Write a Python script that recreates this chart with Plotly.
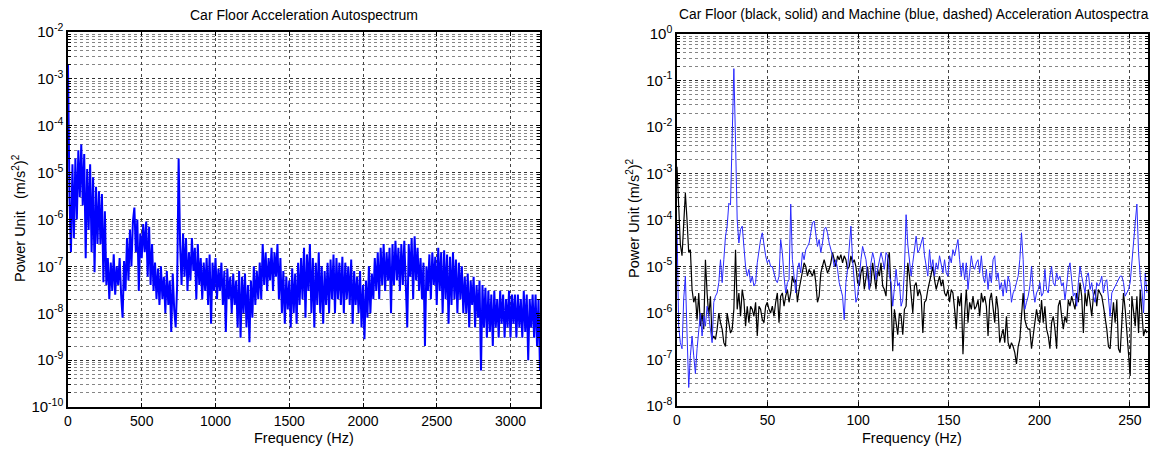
import numpy as np
import plotly.graph_objects as go

# ---------------- Left chart: car floor autospectrum (10 Hz steps, 0..3200 Hz)
left_freq_step = 10
left_vals = [
    2e-3, 3e-6, 2e-7, 1.5e-5, 4e-7, 2e-5, 1e-6, 3e-5, 3e-6, 4e-5,
    2e-6, 2.5e-5, 1.5e-7, 1.2e-5, 6e-7, 1.5e-5, 2e-7, 8e-6, 7.5e-8, 5e-6,
    3e-7, 4e-6, 3e-7, 3.5e-6, 4.6e-8, 1.5e-6, 4e-8, 1.5e-7, 2e-8, 1.2e-7,
    3e-8, 1.8e-7, 2.5e-8, 1e-7, 4e-8, 1.5e-7, 2.5e-8, 8e-9, 1.3e-7, 3e-8,
    4e-7, 5e-8, 6e-7, 1e-7, 9e-7, 1.8e-6, 2e-7, 1e-6, 3e-8, 5e-7,
    1.5e-7, 8e-7, 2e-7, 9e-7, 6e-8, 7e-7, 4e-8, 3e-7, 3e-8, 1.2e-7,
    2e-8, 9e-8, 1.5e-8, 1e-7, 2e-8, 6e-8, 1e-8, 8e-8, 1.5e-8, 5e-8,
    4e-9, 7e-8, 1.2e-8, 5e-9, 4e-8, 2e-5, 3e-7, 4e-8, 5e-7, 6e-8,
    4e-7, 3e-8, 2e-7, 5e-8, 4e-7, 8e-8, 2.5e-7, 2e-8, 3e-7, 4e-8,
    1.5e-7, 2e-8, 1.2e-7, 3e-8, 1.5e-7, 1.5e-8, 1.8e-7, 6e-9, 1.2e-7, 3e-8,
    1.5e-7, 2e-8, 9e-8, 3e-8, 1.2e-7, 1.5e-8, 8e-8, 4e-9, 9e-8, 2e-8,
    6e-8, 1e-8, 7e-8, 1.5e-8, 5e-8, 5e-9, 8e-8, 3e-9, 6e-8, 1e-8,
    7e-8, 5e-9, 4e-8, 2.4e-9, 5e-8, 8e-9, 1e-7, 1.5e-8, 8e-8, 2e-8,
    1.2e-7, 2e-8, 3e-7, 4e-8, 2e-7, 3e-8, 1.5e-7, 5e-8, 2.5e-7, 3e-8,
    2e-7, 6e-8, 3e-7, 2e-8, 1.5e-7, 1e-8, 8e-8, 6e-9, 6e-8, 1.2e-8,
    5e-8, 5e-9, 9e-8, 1e-8, 7e-8, 6e-9, 1.2e-7, 1.5e-8, 1.5e-7, 2e-8,
    2.5e-7, 8e-9, 1.8e-7, 3e-8, 3e-7, 1e-8, 1.5e-7, 5e-9, 1.2e-7, 1.5e-8,
    2e-7, 1e-8, 1e-7, 6e-9, 8e-8, 1.5e-8, 1.2e-7, 1e-8, 1.4e-7, 2e-8,
    1.8e-7, 1e-8, 1.5e-7, 2e-8, 1.2e-7, 1.5e-8, 1.6e-7, 1e-8, 1.2e-7, 2e-8,
    1e-7, 1.5e-8, 1.4e-7, 6e-9, 8e-8, 1.5e-8, 6e-8, 1e-8, 8e-8, 5e-9,
    4e-8, 2.8e-9, 5e-8, 8e-9, 1e-7, 1e-8, 7e-8, 2e-8, 1.5e-7, 3e-8,
    2e-7, 2e-8, 2.5e-7, 4e-8, 3e-7, 3e-8, 2e-7, 5e-8, 2.5e-7, 1e-8,
    3e-7, 4e-8, 3.5e-7, 5e-8, 2.5e-7, 3e-8, 3e-7, 4e-8, 3.5e-7, 3e-8,
    5e-9, 3e-7, 6e-8, 4e-7, 2e-8, 4.4e-7, 5e-8, 2.5e-7, 3e-8, 1.5e-7,
    2e-8, 1.2e-7, 2e-9, 1e-7, 3e-8, 1.8e-7, 2e-8, 2e-7, 4e-8, 1.6e-7,
    1.5e-8, 2.5e-7, 3e-8, 2e-7, 1e-8, 2.2e-7, 2e-8, 1.8e-7, 6e-9, 1.6e-7,
    1.5e-8, 2e-7, 2e-8, 1.4e-7, 1e-8, 1.2e-7, 2e-8, 1e-7, 1e-8, 6e-8,
    1e-8, 7e-8, 5e-9, 5e-8, 1.5e-8, 6e-8, 5e-9, 4e-8, 8e-9, 5e-8,
    6e-10, 4e-8, 5e-9, 3.5e-8, 3e-9, 3e-8, 4e-9, 2.5e-8, 2e-9, 3e-8,
    5e-9, 2e-8, 3e-9, 3e-8, 6e-9, 2.5e-8, 3e-9, 2e-8, 5e-9, 3e-8,
    3e-9, 2.5e-8, 6e-9, 2.5e-8, 3e-9, 2.5e-8, 5e-9, 2e-8, 3e-9, 3e-8,
    4e-9, 2.5e-8, 1e-9, 2e-8, 5e-9, 2.5e-8, 3e-9, 2.5e-8, 2e-9, 2e-8,
    6e-10,
]
left_freq = np.arange(len(left_vals)) * left_freq_step

# ---------------- Right chart: car floor (black) and machine (blue), 0..259.4 Hz
right_fmax = 259.4
black_low = [
    1.4e-3, 1.2e-4, 3e-5, 1.7e-5, 1.2e-4, 3.8e-4, 1e-4, 2e-5, 2.3e-5, 3.2e-6,
    1.7e-6, 2.3e-6, 7.2e-7, 2.7e-6, 5.2e-7, 1e-6, 4.5e-7, 1.4e-5, 2.7e-6, 8.5e-7,
    2.3e-6, 2.7e-7, 3.2e-7, 2.7e-7, 4.5e-7, 1e-6, 6.2e-7, 4.5e-7, 2.3e-7, 1.9e-7,
    1e-6, 6.2e-7, 3.7e-7, 4.5e-7, 1.2e-6, 2.3e-5, 1.2e-6, 2.7e-6, 8.5e-7, 3.2e-6,
    1.9e-6, 5.2e-7, 1.4e-6, 6.2e-7, 1.4e-6, 1.2e-6, 8.5e-7, 1.7e-6, 3.2e-7, 1.4e-6,
    1.2e-6, 7.2e-7, 6.2e-7, 1.4e-6, 1.7e-6, 1.2e-6, 1e-6, 1.4e-6, 8.5e-7, 1.7e-6,
    2.7e-6, 6.2e-7, 2.3e-6, 2.7e-6, 1.4e-6, 2.3e-6, 3.2e-6, 1.7e-6, 2.7e-6, 6.2e-6,
    4.5e-6, 5.2e-6, 1.7e-6, 3.2e-6, 5.2e-6, 8.7e-6, 1.2e-5, 1e-5, 6.2e-6, 8.7e-6,
    7.3e-6, 6.2e-6, 8.7e-6, 4.5e-6, 1.7e-6, 2.3e-6, 7.3e-6, 1e-5, 1.4e-5, 1e-5,
    7.3e-6, 8.7e-6, 1.2e-5, 2e-5, 1.4e-5, 1e-5, 1.7e-5, 1.4e-5, 1.8e-5, 1.2e-5,
    1.7e-5, 1.4e-5, 8.7e-6, 1e-5, 1.7e-5, 1.2e-5, 1.4e-5, 1e-5, 4.5e-6, 3.8e-6,
    7.3e-6, 1e-5, 3.2e-6, 6.2e-6, 1e-5, 3.2e-6, 4.5e-6, 1.2e-5, 6.2e-6, 3.2e-6,
    8.7e-6, 6.2e-6, 1.2e-5, 3.8e-6, 3.2e-6, 2.3e-6, 1.4e-5, 2e-5, 2.7e-6, 1.5e-7,
    1.2e-6, 6.2e-7, 3.4e-7, 1e-6, 8.5e-7, 3.4e-7, 1.2e-6,
]
black_high = [
    1.4e-6, 1.2e-5, 6.2e-6, 2.7e-6, 1e-6, 3.8e-6, 4.5e-6, 2.3e-6, 3.2e-6, 2.3e-6,
    3.7e-7, 1.7e-6, 1.9e-6, 3.2e-6, 4.5e-6, 6.2e-6, 1e-5, 5.2e-6, 3.2e-6, 4.5e-6,
    6.2e-6, 3.8e-6, 5.2e-6, 2.7e-6, 2.3e-6, 3.2e-6, 1.7e-6, 3.2e-6, 2.7e-6, 1.2e-6,
    4.5e-7, 2.3e-6, 1.4e-6, 2.7e-6, 1.3e-7, 1e-6, 3.2e-6, 6.2e-7, 1.7e-6, 1.2e-6,
    2.3e-6, 1.2e-6, 1.4e-6, 1.9e-6, 8.5e-7, 2.7e-6, 1.7e-6, 2.3e-6, 1.4e-6, 3.2e-7,
    1.9e-6, 2.7e-6, 1.4e-6, 6.2e-7, 2.3e-6, 1.2e-6, 2.3e-7, 3.2e-7, 4.5e-7, 2.3e-7,
    8.5e-7, 2.3e-7, 1.7e-7, 2.3e-7, 1.9e-7, 1.4e-7, 8e-8, 1.9e-7, 2.7e-7, 8.5e-7,
    2.7e-6, 7.2e-7, 5.2e-7, 4.5e-7, 4.5e-7, 1.7e-7, 3.2e-7, 6.2e-7, 1.2e-6, 7.2e-7,
    6.2e-7, 1.9e-6, 6.2e-7, 1.4e-6, 4.5e-7, 3.2e-7, 1.7e-7, 6.2e-7, 8.5e-7, 4.5e-7,
    1.7e-7, 1.4e-6, 1.9e-6, 8.5e-7, 4.5e-7, 8.5e-7, 6.2e-7, 1.9e-6, 1.4e-6, 2.3e-6,
    1.7e-6, 1.2e-6, 2.7e-6, 1.7e-6, 4.5e-6, 2.3e-6, 3.7e-7, 2.7e-6, 1.4e-6, 3.2e-6,
    1.7e-6, 8.5e-7, 2.3e-6, 3.2e-6, 1.4e-6, 3.2e-6, 2.7e-6, 2.3e-6, 1.4e-6, 8.5e-7,
    4.5e-7, 1.9e-7, 1.7e-7, 6.2e-7, 1.7e-6, 6.2e-7, 1.9e-6, 1.7e-7, 1.4e-7, 6.2e-7,
    2.7e-6, 1.2e-6, 3.7e-7, 1.7e-7, 4.4e-8, 2.3e-6, 1.2e-6, 5.2e-7, 2.3e-6, 3.7e-7,
    3.2e-6, 8.5e-7, 3.2e-7, 4.5e-7, 3.7e-7,
]
blue_low = [
    8e-5, 5.2e-7, 2.3e-7, 1.7e-7, 2e-6, 6.2e-6, 3.7e-7, 2.5e-8, 1.2e-7, 3.2e-7,
    1.2e-7, 5e-8, 1.7e-7, 5.2e-7, 1e-6, 3.2e-7, 8.5e-7, 5.2e-7, 1.4e-6, 8.5e-7,
    3.7e-7, 2.3e-7, 1.7e-6, 2.3e-6, 2.7e-6, 4.5e-6, 1.4e-5, 4.5e-6, 1.4e-5, 4.5e-5,
    7.4e-5, 2.3e-4, 2.1e-4, 1e-2, 0.18, 5e-3, 1e-4, 3.2e-5, 6.3e-5, 7.4e-5,
    2.7e-5, 1e-5, 6.2e-6, 8.7e-6, 4.5e-6, 6.2e-6, 3.8e-6, 4.5e-6, 1.2e-5, 2.3e-5,
    3.8e-5, 5.3e-5, 2.7e-5, 1.7e-5, 1.2e-5, 1.4e-5, 1e-5, 1e-5, 7.3e-6, 5.2e-6,
    4.5e-6, 6.2e-6, 3.8e-5, 2e-5, 6.2e-6, 2.7e-6, 4.5e-6, 5.2e-6, 2.2e-4, 1.4e-5,
    6.2e-6, 2.7e-6, 8.7e-6, 1.2e-5, 7.3e-6, 2e-5, 1.4e-5, 2.3e-5, 2.7e-5, 3.2e-5,
    5.3e-5, 8.7e-5, 9.5e-5, 5.3e-5, 2.7e-5, 3.8e-5, 2e-5, 3.2e-5, 6.3e-5, 7e-5,
    5.3e-5, 3.2e-5, 2.3e-5, 1.7e-5, 1e-5, 1.4e-5, 8.7e-6, 4.5e-6, 3.2e-6, 2.3e-6,
    7.2e-7, 4.5e-6, 8.7e-6, 2.3e-5, 7.4e-5, 1.4e-5, 4.5e-6, 1.7e-6, 2.3e-6, 6.2e-6,
    1.4e-5, 2.7e-5, 2e-5, 1.4e-5, 6.2e-6, 3.2e-6, 1.2e-5, 2e-5, 1.4e-5, 5.2e-6,
    8.7e-6, 1.4e-5, 2e-5, 1.4e-5, 8.7e-6, 2e-5, 1.7e-5, 6.2e-6, 4.5e-6, 1.4e-6,
    3.2e-6, 8.7e-6, 3.8e-6, 4.5e-6, 1.4e-6, 1.9e-6, 8.7e-6,
]
blue_high = [
    1.3e-4, 3e-5, 1.2e-5, 6.2e-6, 1.2e-5, 2.3e-5, 4.5e-5, 2e-5, 2.3e-5, 3.2e-5,
    4.3e-5, 1.7e-5, 1e-5, 6.2e-6, 2.3e-5, 8.7e-6, 1.4e-5, 6.2e-6, 1.2e-5, 8.7e-6,
    1.7e-5, 1.2e-5, 7.3e-6, 1.4e-5, 7.3e-6, 6.2e-6, 1.7e-5, 1.2e-5, 2.3e-5, 1.7e-5,
    2.7e-5, 3.8e-5, 1.4e-5, 6.2e-6, 1.2e-5, 5.2e-6, 1.2e-5, 3.2e-6, 7.3e-6, 1.7e-5,
    1e-5, 8.7e-6, 1.2e-5, 1.4e-5, 7.3e-6, 1.7e-5, 6.2e-6, 4.5e-6, 8.7e-6, 3.2e-6,
    7.3e-6, 4.5e-6, 1.4e-5, 1.7e-5, 5.2e-6, 7.3e-6, 3.2e-6, 4.5e-6, 2.3e-6, 5.2e-6,
    2.7e-6, 6.2e-6, 4.5e-6, 1.7e-6, 2.7e-6, 3.2e-6, 4.5e-6, 6.2e-6, 1.4e-5, 5.3e-5,
    1.4e-5, 1.2e-6, 1.7e-6, 2.3e-6, 3.8e-6, 1e-5, 3.2e-6, 1.7e-6, 2.7e-6, 3.2e-6,
    4.5e-6, 2.3e-6, 2.7e-6, 8.7e-6, 3.2e-6, 2.7e-6, 6.2e-6, 1e-5, 4.5e-6, 3.8e-6,
    7.3e-6, 5.2e-6, 6.2e-6, 3.8e-6, 4.5e-6, 1.9e-6, 3.8e-6, 8.7e-6, 1.2e-5, 5.2e-6,
    2.3e-6, 2.7e-6, 1.4e-6, 4.5e-6, 1e-5, 6.2e-6, 3.8e-6, 2.7e-6, 6.2e-6, 7.3e-6,
    3.2e-6, 4.5e-6, 2.3e-6, 1.7e-6, 4.5e-6, 3.8e-6, 4.5e-6, 6.2e-6, 2.7e-6, 4.5e-6,
    5.2e-6, 1.9e-6, 8.5e-7, 2.7e-6, 3.2e-6, 3.8e-6, 4.5e-6, 5.2e-6, 6.2e-6, 6.2e-6,
    4.5e-6, 2.3e-6, 2.7e-6, 3.2e-6, 4.5e-6, 1.4e-5, 4.5e-5, 8.7e-5, 2.2e-4, 2e-5,
    6.2e-6, 3.2e-6, 1e-6, 7.3e-6, 2.7e-6,
]
black_vals = black_low + black_high
blue_vals = blue_low + blue_high
black_freq = np.linspace(0, right_fmax, len(black_vals))
blue_freq = np.linspace(0, right_fmax, len(blue_vals))

left_xticks = [0, 500, 1000, 1500, 2000, 2500, 3000]
right_xticks = [0, 50, 100, 150, 200, 250]
left_decades = list(range(-10, -1))
right_decades = list(range(-8, 1))

W, H = 1155, 450
FONT = "Liberation Sans, Arial, sans-serif"

fig = go.Figure()
fig.add_trace(go.Scatter(x=left_freq, y=left_vals, mode="lines",
                         line=dict(color="#0000ff", width=2),
                         xaxis="x", yaxis="y", showlegend=False))
fig.add_trace(go.Scatter(x=black_freq, y=black_vals, mode="lines",
                         line=dict(color="#000000", width=1.2),
                         xaxis="x2", yaxis="y2", showlegend=False))
fig.add_trace(go.Scatter(x=blue_freq, y=blue_vals, mode="lines",
                         line=dict(color="#2a2aff", width=1),
                         xaxis="x2", yaxis="y2", showlegend=False))


def log_ticks(decades):
    vals = [10.0 ** d for d in decades]
    text = ["10<sup>%d</sup>" % d for d in decades]
    minor = [m * 10.0 ** d for d in decades[:-1] for m in range(2, 10)]
    return vals, text, minor


def xaxis_cfg(dom, rng, ticks, anchor):
    return dict(domain=dom, range=rng, anchor=anchor, tickvals=ticks, automargin=False,
                ticks="inside", ticklen=4, tickcolor="black",
                showline=True, linecolor="black", linewidth=1.5, mirror="ticks",
                showgrid=True, gridcolor="#444444", griddash="dot", gridwidth=1,
                zeroline=False, tickfont=dict(family=FONT, size=14, color="black"))


def yaxis_cfg(dom, decades, anchor):
    vals, text, minor = log_ticks(decades)
    return dict(domain=dom, type="log", range=[decades[0], decades[-1]], anchor=anchor,
                tickmode="array", tickvals=vals, ticktext=text, automargin=False,
                ticks="inside", ticklen=4, tickcolor="black",
                showline=True, linecolor="black", linewidth=1.5, mirror="ticks",
                showgrid=True, gridcolor="#333333", griddash="dot", gridwidth=1,
                zeroline=False, tickfont=dict(family=FONT, size=15, color="black"),
                minor=dict(tickmode="array", tickvals=minor, ticks="inside", ticklen=3,
                           tickcolor="black", showgrid=True, gridcolor="#858585",
                           griddash="dot", gridwidth=1))


fig.update_layout(
    width=W, height=H, margin=dict(l=0, r=0, t=0, b=0),
    paper_bgcolor="white", plot_bgcolor="white",
    xaxis=xaxis_cfg([68 / W, 540 / W], [0, 3200], left_xticks, "y"),
    yaxis=yaxis_cfg([43 / H, 418 / H], left_decades, "x"),
    xaxis2=xaxis_cfg([677 / W, 1148 / W], [0, 260], right_xticks, "y2"),
    yaxis2=yaxis_cfg([44 / H, 416 / H], right_decades, "x2"),
    showlegend=False,
)

ann = [
    dict(text="Car Floor Acceleration Autospectrum", x=304 / W, y=1 - 15 / H, size=14),
    dict(text="Car Floor (black, solid) and Machine (blue, dashed) Acceleration Autospectra",
         x=914 / W, y=1 - 15 / H, size=13.8),
    dict(text="Frequency (Hz)", x=304 / W, y=1 - 438 / H, size=14.5),
    dict(text="Frequency (Hz)", x=912 / W, y=1 - 438 / H, size=14.5),
    dict(text="Power Unit   (m/s<sup>2</sup>)<sup>2</sup>", x=19 / W, y=1 - 218 / H, size=14.5,
         textangle=-90),
    dict(text="Power Unit (m/s<sup>2</sup>)<sup>2</sup>", x=633 / W, y=1 - 218 / H, size=14.5,
         textangle=-90),
]
for a in ann:
    size = a.pop("size")
    fig.add_annotation(xref="paper", yref="paper", showarrow=False,
                       xanchor="center", yanchor="middle",
                       font=dict(family=FONT, size=size, color="black"), **a)

fig.write_html(
    "out.html",
    config={"displayModeBar": False},
    post_script="document.body.style.margin='0px';document.body.style.overflow='hidden';",
)
